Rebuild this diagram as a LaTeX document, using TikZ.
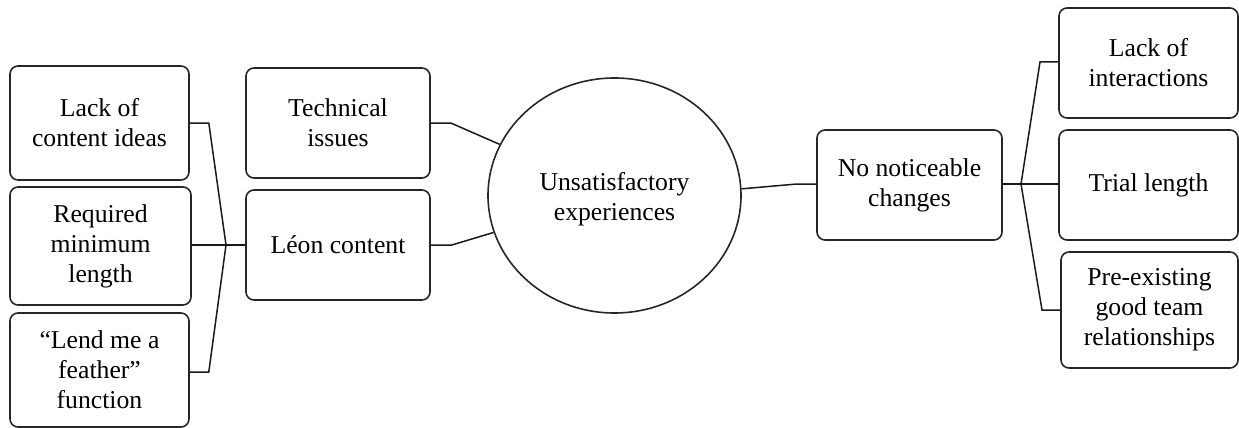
\documentclass[tikz,border=0pt]{standalone}
\usepackage{fontspec}
\setmainfont{Liberation Serif}
\usetikzlibrary{shapes.geometric}
\begin{document}
\begin{tikzpicture}[x=1pt,y=-1pt,
  box/.style={draw=black!85, line width=1.6pt, rounded corners=8pt, align=center,
    inner sep=0pt, font=\fontsize{25.7}{30}\selectfont},
  conn/.style={draw=black!90, line width=1.5pt},
  hub/.style={ellipse, draw=black!85, line width=1.6pt, align=center, inner sep=0pt,
    font=\fontsize{25.7}{30}\selectfont}]
\useasboundingbox (0,0) rectangle (1239,428);
\node[box, minimum width=179pt, minimum height=114pt] (a1) at (99.5,123) {Lack of\\content ideas};
\node[box, minimum width=181pt, minimum height=118pt] (a2) at (100.5,246) {Required\\minimum\\length};
\node[box, minimum width=179pt, minimum height=114pt] (a3) at (99.5,370) {“Lend me a\\feather”\\function};
\node[box, minimum width=184pt, minimum height=110pt] (b1) at (338,123) {Technical\\issues};
\node[box, minimum width=184pt, minimum height=110pt] (b2) at (338,245) {Léon content};
\node[hub, minimum width=253pt, minimum height=235pt] (c) at (614.5,195.5) {};
\node[align=center, inner sep=0pt, font=\fontsize{25.7}{30}\selectfont] (ct) at (614.5,199) {Unsatisfactory\\experiences};
\node[box, minimum width=185pt, minimum height=110pt] (d) at (909.5,185) {No noticeable\\changes};
\node[box, minimum width=179pt, minimum height=110pt] (e1) at (1148.5,63) {Lack of\\interactions};
\node[box, minimum width=179pt, minimum height=110pt] (e2) at (1148.5,185) {Trial length};
\node[box, minimum width=177pt, minimum height=116pt] (e3) at (1149.5,310) {Pre-existing\\good team\\relationships};
\coordinate (j1) at (226,245);
\coordinate (j2) at (1021,184);
\draw[conn] (a1.east) -- ++(19,0) -- (j1);
\draw[conn] (a3.east |- 0,372) -- ++(19,0) -- (j1);
\draw[conn] (a2.east |- j1) -- (j1) -- (b2.west);
\draw[conn] (b1.east) -- ++(20,0) -- (c.156.6);
\draw[conn] (b2.east) -- ++(21,0) -- (c.197.1);
\draw[conn] (c.3.8) -- (797,184) -- (d.west |- j2);
\draw[conn] (d.east |- j2) -- (j2);
\draw[conn] (j2) -- (1040,62) -- (e1.west |- 0,62);
\draw[conn] (j2) -- (e2.west |- j2);
\draw[conn] (j2) -- (1042,310) -- (e3.west);
\end{tikzpicture}
\end{document}
